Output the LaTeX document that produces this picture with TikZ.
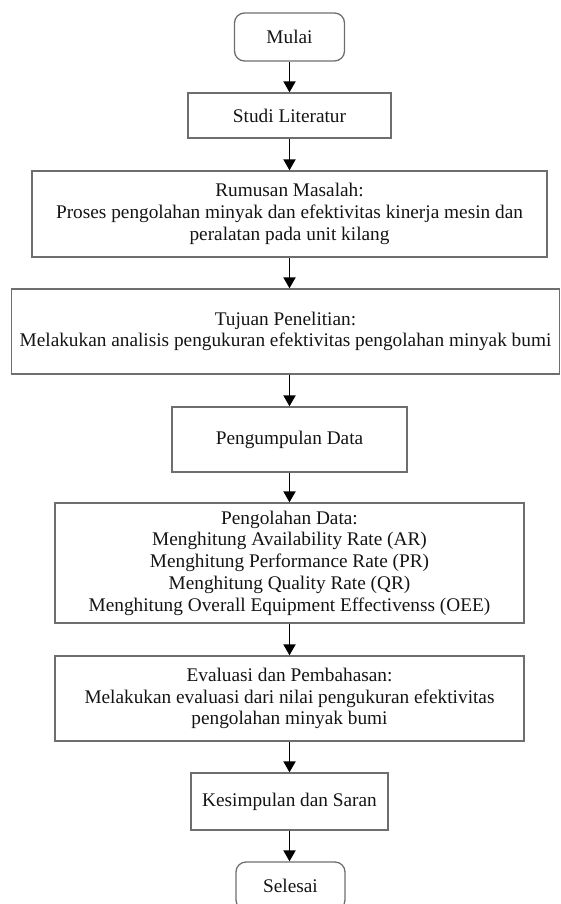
\documentclass[tikz,border=0pt]{standalone}
\usepackage{fontspec}
\setmainfont{Liberation Serif}
\usetikzlibrary{arrows.meta}
\definecolor{boxgray}{HTML}{6E6E6E}
\definecolor{textdark}{HTML}{141414}
\begin{document}
\begin{tikzpicture}[x=1pt,y=-1pt,
  box/.style={draw=boxgray,line width=1.3pt,inner sep=0pt,align=center,text=textdark,
    font=\fontsize{19.3}{21.7}\selectfont},
  term/.style={box,rounded corners=10pt},
  flow/.style={line width=1.9pt,-{Triangle[width=12pt,length=11pt]}}]
\useasboundingbox (0,0) rectangle (561,904);
\node[term,minimum width=110,minimum height=48] (mulai) at (289.5,37) {Mulai};
\node[box,minimum width=203,minimum height=45] (studi) at (289.5,115.5) {Studi Literatur};
\node[box,minimum width=515,minimum height=86] (rumusan) at (289.5,214)
  {Rumusan Masalah:\\Proses pengolahan minyak dan efektivitas kinerja mesin dan\\peralatan pada unit kilang};
\node[box,minimum width=548,minimum height=85] (tujuan) at (285.5,331.5)
  {Tujuan Penelitian:\\Melakukan analisis pengukuran efektivitas pengolahan minyak bumi};
\node[box,minimum width=235,minimum height=65] (kumpul) at (289.5,439.5) {Pengumpulan Data};
\node[box,minimum width=469,minimum height=120] (olah) at (289.5,563)
  {Pengolahan Data:\\Menghitung Availability Rate (AR)\\Menghitung Performance Rate (PR)\\Menghitung Quality Rate (QR)\\Menghitung Overall Equipment Effectivenss (OEE)};
\node[box,minimum width=469,minimum height=85] (evaluasi) at (289.5,698.5)
  {Evaluasi dan Pembahasan:\\Melakukan evaluasi dari nilai pengukuran efektivitas\\pengolahan minyak bumi};
\node[box,minimum width=197,minimum height=57] (simpul) at (289.5,801.5) {Kesimpulan dan Saran};
\node[term,minimum width=109,minimum height=48] (selesai) at (290.5,886) {Selesai};
\draw[flow] (mulai) -- (studi);
\draw[flow] (studi) -- (rumusan);
\draw[flow] (rumusan) -- (rumusan|-tujuan.north);
\draw[flow] (rumusan|-tujuan.south) -- (kumpul);
\draw[flow] (kumpul) -- (olah);
\draw[flow] (olah) -- (evaluasi);
\draw[flow] (evaluasi) -- (simpul);
\draw[flow] (simpul) -- (simpul|-selesai.north);
\end{tikzpicture}
\end{document}
